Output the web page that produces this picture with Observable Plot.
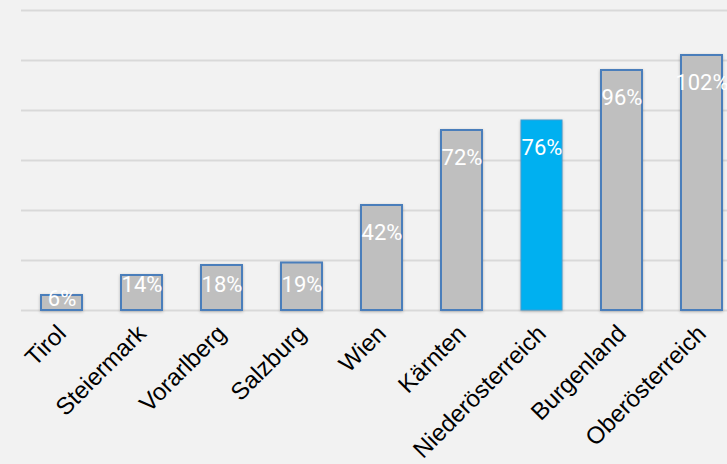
<!DOCTYPE html>
<html>
<head>
<meta charset="utf-8">
<script src="https://cdn.jsdelivr.net/npm/d3@7"></script>
<script src="https://cdn.jsdelivr.net/npm/@observablehq/plot@0.6"></script>
<style>
html, body { margin: 0; padding: 0; background: #f2f2f2; }
g[aria-label="bar"] { filter: drop-shadow(0px 1px 1.5px rgba(0,0,0,0.25)); }
</style>
</head>
<body>
<div id="chart"></div>
<script>
const regions = ["Tirol", "Steiermark", "Vorarlberg", "Salzburg", "Wien", "Kärnten", "Niederösterreich", "Burgenland", "Oberösterreich"];
const values = [6, 14, 18, 19, 42, 72, 76, 96, 102];
const valueLabels = ["6%", "14%", "18%", "19%", "42%", "72%", "76%", "96%", "102%"];
const highlighted = "Niederösterreich";
const gridTicks = [0, 20, 40, 60, 80, 100, 120];

const data = regions.map((r, i) => ({region: r, value: values[i], label: valueLabels[i]}));

const chart = Plot.plot({
  width: 727,
  height: 464,
  marginLeft: 21,
  marginRight: 0,
  marginTop: 10,
  marginBottom: 154,
  style: {background: "#f2f2f2", fontFamily: "'Liberation Sans', Arial, sans-serif", overflow: "visible"},
  x: {domain: regions, range: [21.7, 741.7], paddingInner: 0.49, paddingOuter: 0.245, label: null},
  y: {domain: [0, 120], range: [310, 10], axis: null},
  marks: [
    Plot.gridY(gridTicks, {stroke: "#d9d9d9", strokeOpacity: 1, strokeWidth: 2}),
    Plot.barY(data, {filter: d => d.region !== highlighted, x: "region", y: "value", fill: "#bfbfbf", stroke: "#4a7ebb", strokeWidth: 2}),
    Plot.barY(data, {filter: d => d.region === highlighted, x: "region", y: "value", fill: "#00b0f0", stroke: "#3a9ed6", strokeWidth: 1}),
    Plot.text(data, {
      x: "region",
      y: d => Math.max(d.value - 10.8, Math.min(d.value * 0.75, 10.4)),
      text: "label",
      fill: "white",
      fontSize: 22,
      fontFamily: "'Roboto', sans-serif"
    }),
    Plot.axisX({tickRotate: -45, tickSize: 0, tickPadding: 19, fontSize: 24, fill: "black", label: null})
  ]
});
document.getElementById("chart").appendChild(chart);
</script>
</body>
</html>
